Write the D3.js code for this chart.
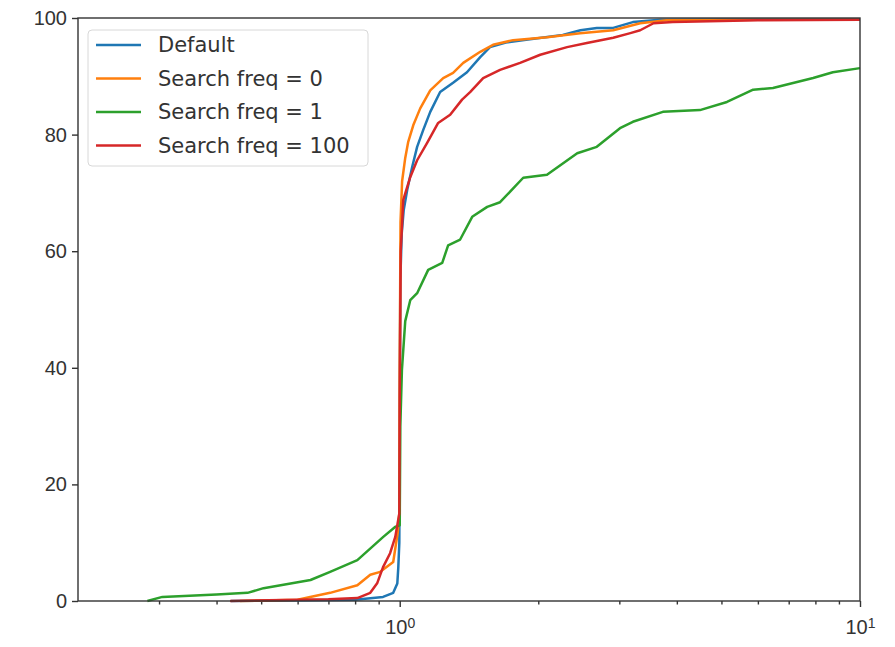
<!DOCTYPE html>
<html>
<head>
<meta charset="utf-8">
<script src="https://cdn.jsdelivr.net/npm/d3@7"></script>
<style>
  html, body { margin: 0; padding: 0; background: #fff; }
  svg { display: block; font-family: "DejaVu Sans", sans-serif; }
  .axis path { display: none; }
  .axis line { stroke: #333; stroke-width: 1.4; }
  .axis text { fill: #333; font-size: 20px; }
</style>
</head>
<body>
<svg id="chart" width="895" height="647"></svg>
<script>
// series (x value, percent)
const seriesNames = ["Default", "Search freq = 0", "Search freq = 1", "Search freq = 100"];
const seriesColors = ["#1f77b4", "#ff7f0e", "#2ca02c", "#d62728"];

const defaultX = [0.43, 0.80, 0.92, 0.968, 0.988, 0.993, 0.998, 1.0, 1.003, 1.01, 1.02, 1.038, 1.064, 1.091, 1.125, 1.165, 1.224, 1.306, 1.40, 1.496, 1.571, 1.70, 1.90, 2.26, 2.47, 2.68, 2.91, 3.21, 3.68, 5.0, 10];
const defaultY = [0, 0.2, 0.7, 1.4, 3.0, 5.8, 10, 30, 55, 63, 67, 70.5, 74.4, 77.9, 80.8, 83.9, 87.3, 88.9, 90.7, 93.3, 95.0, 95.8, 96.3, 97.1, 97.9, 98.3, 98.3, 99.3, 99.7, 99.8, 99.8];

const freq0X = [0.45, 0.60, 0.639, 0.706, 0.809, 0.863, 0.907, 0.968, 0.99, 0.998, 1.0, 1.004, 1.012, 1.028, 1.043, 1.07, 1.108, 1.165, 1.243, 1.306, 1.374, 1.496, 1.595, 1.763, 2.09, 2.466, 2.91, 3.33, 3.8, 6.0, 10];
const freq0Y = [0, 0.2, 0.7, 1.4, 2.7, 4.5, 5.0, 6.7, 11.7, 15, 40, 65, 72, 76, 78.7, 81.6, 84.5, 87.6, 89.7, 90.6, 92.3, 94.2, 95.4, 96.2, 96.7, 97.4, 97.9, 99.1, 99.6, 99.7, 99.7];

const freq1X = [0.283, 0.305, 0.40, 0.467, 0.506, 0.64, 0.706, 0.809, 0.921, 0.977, 1.0, 1.003, 1.011, 1.028, 1.054, 1.091, 1.153, 1.237, 1.274, 1.353, 1.437, 1.549, 1.652, 1.855, 2.089, 2.43, 2.68, 3.01, 3.21, 3.73, 4.49, 5.14, 5.86, 6.47, 7.91, 8.73, 10];
const freq1Y = [0, 0.7, 1.1, 1.4, 2.2, 3.6, 5.0, 7.0, 11, 12.7, 13, 30, 39.6, 48, 51.6, 52.8, 56.8, 58, 61, 62, 65.9, 67.6, 68.4, 72.6, 73.1, 76.8, 77.9, 81.1, 82.2, 83.9, 84.2, 85.6, 87.7, 88.0, 89.7, 90.7, 91.4];

const freq100X = [0.428, 0.70, 0.809, 0.863, 0.894, 0.92, 0.953, 0.978, 0.998, 1.0, 1.005, 1.018, 1.054, 1.091, 1.147, 1.212, 1.287, 1.366, 1.422, 1.518, 1.652, 1.826, 2.02, 2.31, 2.55, 2.91, 3.17, 3.33, 3.56, 3.92, 6.0, 10];
const freq100Y = [0, 0.3, 0.5, 1.4, 3.1, 5.8, 8.2, 11, 15, 35, 60, 68.8, 72.7, 75.6, 78.6, 82, 83.4, 86, 87.3, 89.7, 91.1, 92.3, 93.7, 95.0, 95.7, 96.6, 97.4, 97.9, 99.1, 99.3, 99.6, 99.7];

const xMajorTicks = [1, 10];
const xMinorTicks = [0.3, 0.4, 0.5, 0.6, 0.7, 0.8, 0.9, 2, 3, 4, 5, 6, 7, 8, 9];
const yTicks = [0, 20, 40, 60, 80, 100];

const allX = [defaultX, freq0X, freq1X, freq100X];
const allY = [defaultY, freq0Y, freq1Y, freq100Y];

const svg = d3.select("#chart");
const plotLeft = 78, plotRight = 860, plotTop = 18, plotBottom = 601;

const xScale = d3.scaleLog().domain([0.2, 10]).range([plotLeft, plotRight]);
const yScale = d3.scaleLinear().domain([0, 100]).range([plotBottom, plotTop]);

// y axis
svg.append("g")
  .attr("class", "axis")
  .attr("transform", "translate(" + plotLeft + ",0)")
  .call(d3.axisLeft(yScale).tickValues(yTicks).tickSize(6).tickPadding(5).tickFormat(d3.format("d")));

// x minor ticks
svg.append("g")
  .attr("class", "axis")
  .attr("transform", "translate(0," + plotBottom + ")")
  .call(d3.axisBottom(xScale).tickValues(xMinorTicks).tickSize(3.5).tickFormat(() => ""));

// x major ticks, labels as 10^n
const xMajor = svg.append("g")
  .attr("class", "axis")
  .attr("transform", "translate(0," + plotBottom + ")")
  .call(d3.axisBottom(xScale).tickValues(xMajorTicks).tickSize(6).tickPadding(7).tickFormat(() => ""));
xMajor.selectAll(".tick text").each(function(d) {
  const t = d3.select(this).attr("dy", "1.0em");
  t.append("tspan").text("10");
  t.append("tspan").attr("dy", "-0.45em").style("font-size", "14px").text(Math.round(Math.log10(d)));
});

// lines
const line = d3.line()
  .x(d => xScale(d[0]))
  .y(d => yScale(d[1]));

const plot = svg.append("g");
allX.forEach((xs, i) => {
  const pts = xs.map((x, j) => [x, allY[i][j]]);
  plot.append("path")
    .datum(pts)
    .attr("fill", "none")
    .attr("stroke", seriesColors[i])
    .attr("stroke-width", 2.5)
    .attr("stroke-linejoin", "round")
    .attr("d", line);
});

// frame
svg.append("rect")
  .attr("x", plotLeft).attr("y", plotTop)
  .attr("width", plotRight - plotLeft).attr("height", plotBottom - plotTop)
  .attr("fill", "none")
  .attr("stroke", "#333")
  .attr("stroke-width", 1.4);

// legend
const legend = svg.append("g");
legend.append("rect")
  .attr("x", 88).attr("y", 30)
  .attr("width", 280).attr("height", 136)
  .attr("rx", 4)
  .attr("fill", "#fff").attr("fill-opacity", 0.8)
  .attr("stroke", "#d8d8d8");
seriesNames.forEach((name, i) => {
  const y = 45 + i * 33.5;
  legend.append("line")
    .attr("x1", 96).attr("x2", 141)
    .attr("y1", y).attr("y2", y)
    .attr("stroke", seriesColors[i]).attr("stroke-width", 2.5);
  legend.append("text")
    .attr("x", 158).attr("y", y)
    .attr("dy", "0.35em")
    .attr("fill", "#333")
    .style("font-size", "21px")
    .text(name);
});
</script>
</body>
</html>
